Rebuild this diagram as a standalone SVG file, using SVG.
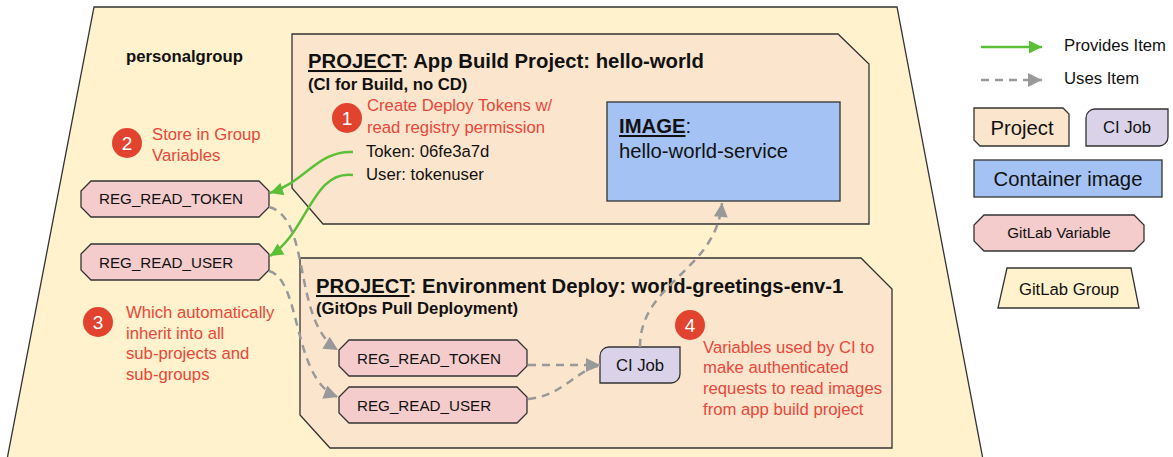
<svg xmlns="http://www.w3.org/2000/svg" width="1173" height="457" viewBox="0 0 1173 457">
<defs>
<style>
text{font-family:"Liberation Sans",Arial,sans-serif;fill:#111}
.b{font-weight:bold}
.t{font-size:16.7px}
.ti{font-size:20.3px}
.v{font-size:15.2px}
.red{fill:#e8473a;font-size:16.7px}
.num{fill:#fff;font-size:19px;text-anchor:middle}
.circ{fill:#e2432f}
.grp{fill:#fff2cc;stroke:#333;stroke-width:1.3}
.proj{fill:#fce5cd;stroke:#333;stroke-width:1.3}
.img{fill:#a4c2f4;stroke:#333;stroke-width:1.3}
.var{fill:#f4cccc;stroke:#333;stroke-width:1.3}
.job{fill:#d9d2e9;stroke:#333;stroke-width:1.3}
.gl{fill:none;stroke:#5cbf38;stroke-width:2.5}
.dl{fill:none;stroke:#999;stroke-width:2.5;stroke-dasharray:8 6}
</style>
<marker id="ga" viewBox="0 0 10 10" refX="10" refY="5" markerWidth="16" markerHeight="13" markerUnits="userSpaceOnUse" orient="auto"><path d="M0,0 L10,5 L0,10 z" fill="#5cbf38"/></marker>
<marker id="da" viewBox="0 0 10 10" refX="10" refY="5" markerWidth="16" markerHeight="14" markerUnits="userSpaceOnUse" orient="auto"><path d="M0,0 L10,5 L0,10 z" fill="#999"/></marker>
</defs>

<g id="personalgroup">
<polygon class="grp" points="94,7 897,7 985,470 5,470"/>
<text class="t b" x="126" y="62">personalgroup</text>
</g>

<g id="project-app-build">
<polygon class="proj" points="292,34 838,34 869,64 869,224 323,224 292,188"/>
<text class="ti b" x="308" y="68"><tspan text-decoration="underline">PROJECT</tspan>: App Build Project: hello-world</text>
<text class="t b" x="308" y="90">(CI for Build, no CD)</text>
<text class="t" x="366" y="157">Token: 06fe3a7d</text>
<text class="t" x="366" y="180">User: tokenuser</text>
</g>

<g id="image">
<rect class="img" x="607" y="102" width="233" height="99"/>
<text class="ti" x="619" y="133"><tspan class="b" text-decoration="underline">IMAGE</tspan>:</text>
<text class="ti" x="619" y="158">hello-world-service</text>
</g>

<g id="step1">
<circle class="circ" cx="347" cy="118" r="15"/>
<text class="num" x="347" y="125">1</text>
<text class="red" x="367" y="111">Create Deploy Tokens w/</text>
<text class="red" x="367" y="133">read registry permission</text>
</g>

<g id="step2">
<circle class="circ" cx="127" cy="143" r="15"/>
<text class="num" x="127" y="150">2</text>
<text class="red" x="152" y="140">Store in Group</text>
<text class="red" x="152" y="161">Variables</text>
</g>

<g id="group-reg-read-token">
<polygon class="var" points="91,181 259,181 269,191 269,207 259,217 91,217 81,207 81,191"/>
<text class="v" x="99" y="204">REG_READ_TOKEN</text>
</g>

<g id="group-reg-read-user">
<polygon class="var" points="91,244 259,244 269,254 269,270 259,280 91,280 81,270 81,254"/>
<text class="v" x="99" y="268">REG_READ_USER</text>
</g>

<g id="step3">
<circle class="circ" cx="98" cy="322" r="15"/>
<text class="num" x="98" y="329">3</text>
<text class="red" x="126" y="318">Which automatically</text>
<text class="red" x="126" y="339">inherit into all</text>
<text class="red" x="126" y="359">sub-projects and</text>
<text class="red" x="126" y="380">sub-groups</text>
</g>

<g id="project-env-deploy">
<polygon class="proj" points="300,258 861,258 892,289 892,448 330,448 300,415"/>
<text class="ti b" x="316" y="293"><tspan text-decoration="underline">PROJECT</tspan>: Environment Deploy: world-greetings-env-1</text>
<text class="t b" x="316" y="314">(GitOps Pull Deployment)</text>
</g>

<g id="env-reg-read-token">
<polygon class="var" points="349,340 517,340 527,350 527,366 517,376 349,376 339,366 339,350"/>
<text class="v" x="357" y="364">REG_READ_TOKEN</text>
</g>

<g id="env-reg-read-user">
<polygon class="var" points="349,387 517,387 527,397 527,413 517,423 349,423 339,413 339,397"/>
<text class="v" x="357" y="411">REG_READ_USER</text>
</g>

<g id="ci-job">
<path class="job" d="M609,347 H680 V374 A9,9 0 0 1 671,383 H600 V356 A9,9 0 0 1 609,347 Z"/>
<text class="t" x="640" y="371" text-anchor="middle">CI Job</text>
</g>

<g id="step4">
<circle class="circ" cx="690" cy="325" r="15"/>
<text class="num" x="690" y="332">4</text>
<text class="red" x="703" y="353">Variables used by CI to</text>
<text class="red" x="703" y="373">make authenticated</text>
<text class="red" x="703" y="394">requests to read images</text>
<text class="red" x="703" y="415">from app build project</text>
</g>

<g id="connectors">
<path class="gl" d="M353,152 C318,150 305,182 270,193" marker-end="url(#ga)"/>
<path class="gl" d="M353,175 C312,170 308,232 270,256" marker-end="url(#ga)"/>
<path class="dl" d="M269,207 C312,218 292,322 338,350" marker-end="url(#da)"/>
<path class="dl" d="M269,271 C302,280 292,380 338,397" marker-end="url(#da)"/>
<path class="dl" d="M528,365 L600,365" marker-end="url(#da)"/>
<path class="dl" d="M528,399 C562,396 574,372 598,366"/>
<path class="dl" d="M640,347 C640,282 716,272 722,203" marker-end="url(#da)"/>
</g>

<g id="legend">
<g id="legend-provides">
<path class="gl" d="M981,47 L1042,47" marker-end="url(#ga)"/>
<text class="t" x="1064" y="51">Provides Item</text>
</g>
<g id="legend-uses">
<path class="dl" d="M981,80 L1042,80" marker-end="url(#da)"/>
<text class="t" x="1064" y="84">Uses Item</text>
</g>
<g id="legend-project">
<polygon class="proj" points="974,108 1063,108 1069,114 1069,146 980,146 974,140"/>
<text class="ti" x="1022" y="135" text-anchor="middle">Project</text>
</g>
<g id="legend-cijob">
<path class="job" d="M1095,109 H1168 V137 A9,9 0 0 1 1159,146 H1086 V118 A9,9 0 0 1 1095,109 Z"/>
<text class="t" x="1127" y="133" text-anchor="middle">CI Job</text>
</g>
<g id="legend-image">
<rect class="img" x="974" y="160" width="188" height="37"/>
<text class="ti" x="1068" y="186" text-anchor="middle">Container image</text>
</g>
<g id="legend-variable">
<polygon class="var" points="984,215 1134,215 1144,225 1144,241 1134,251 984,251 974,241 974,225"/>
<text class="v" x="1059" y="238" text-anchor="middle">GitLab Variable</text>
</g>
<g id="legend-group">
<polygon class="grp" points="1007,268 1131,268 1139,308 998,308"/>
<text class="t" x="1069" y="295" text-anchor="middle">GitLab Group</text>
</g>
</g>
</svg>
